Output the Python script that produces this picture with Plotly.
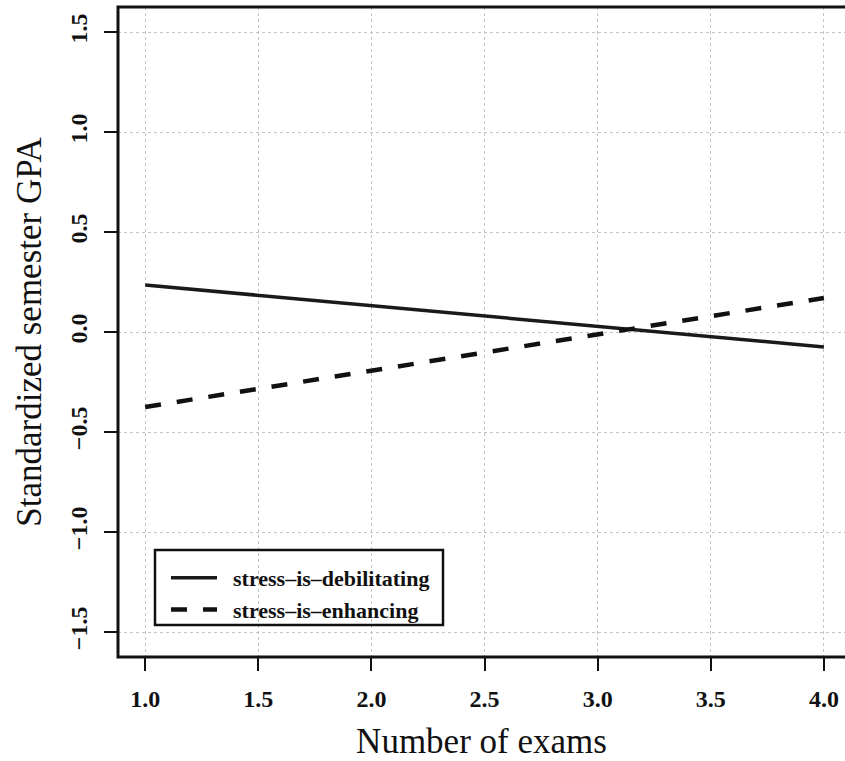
import plotly.graph_objects as go

# Data
exams = [1.0, 4.0]
debilitating = [0.235, -0.075]
enhancing = [-0.375, 0.17]
series_names = ["\u00a0\u00a0stress–is–debilitating", "\u00a0\u00a0stress–is–enhancing"]
x_ticks = [1.0, 1.5, 2.0, 2.5, 3.0, 3.5, 4.0]
y_ticks = [-1.5, -1.0, -0.5, 0.0, 0.5, 1.0, 1.5]

W, H = 845, 761
ML, MT, MB, MR = 118, 7, 104, 0
serif = "Liberation Serif"

fig = go.Figure()
fig.add_trace(go.Scatter(x=exams, y=debilitating, mode="lines", name=series_names[0],
                         line=dict(color="#1a1a1a", width=3.5, dash="solid")))
fig.add_trace(go.Scatter(x=exams, y=enhancing, mode="lines", name=series_names[1],
                         line=dict(color="#111111", width=4.5, dash="16px,16px")))

pw = W - ML - MR
ph = H - MT - MB
# frame (right side runs off the page as in the reference)
fig.add_shape(type="rect", xref="paper", yref="paper", x0=0, x1=1.05, y0=0, y1=1,
              line=dict(color="#111111", width=3), layer="above")
# legend box
lx0, lx1, ly0, ly1 = 155, 443, 550, 625
fig.add_shape(type="rect", xref="paper", yref="paper",
              x0=(lx0 - ML) / pw, x1=(lx1 - ML) / pw,
              y0=(MT + ph - ly1) / ph, y1=(MT + ph - ly0) / ph,
              line=dict(color="#111111", width=2.5), layer="above")

fig.update_layout(
    width=W, height=H,
    margin=dict(l=ML, r=MR, t=MT, b=MB),
    paper_bgcolor="white", plot_bgcolor="white",
    showlegend=True,
    legend=dict(x=(lx0 + 11 - ML) / pw, y=(MT + ph - ly0 - 7) / ph,
                xanchor="left", yanchor="top",
                bgcolor="rgba(0,0,0,0)", borderwidth=0,
                font=dict(family=serif, size=22, color="#111111", weight="bold"),
                itemwidth=46, tracegroupgap=0),
    xaxis=dict(range=[0.88, 1 + (845 - 145) / 226.3],
               tickvals=x_ticks, ticktext=[f"{v:.1f}" for v in x_ticks],
               ticks="outside", ticklen=13, tickwidth=2, tickcolor="#111111",
               ticklabelstandoff=7,
               tickfont=dict(family=serif, size=24, color="#111111", weight="bold"),
               showgrid=True, gridcolor="#c4c4c4", gridwidth=1, griddash="dot",
               zeroline=False, showline=False,
               title=dict(text="Number of exams", standoff=19,
                          font=dict(family=serif, size=35, color="#111111"))),
    yaxis=dict(range=[-1.625, 1.625],
               tickvals=y_ticks, ticktext=[f"{v:.1f}".replace("-", "−") for v in y_ticks],
               tickangle=-90,
               ticks="outside", ticklen=13, tickwidth=2, tickcolor="#111111",
               ticklabelstandoff=7,
               tickfont=dict(family=serif, size=24, color="#111111", weight="bold"),
               showgrid=True, gridcolor="#c4c4c4", gridwidth=1, griddash="dot",
               zeroline=False, showline=False,
               title=dict(text="Standardized semester GPA", standoff=14,
                          font=dict(family=serif, size=35, color="#111111"))),
)

fig.write_html("out.html")
